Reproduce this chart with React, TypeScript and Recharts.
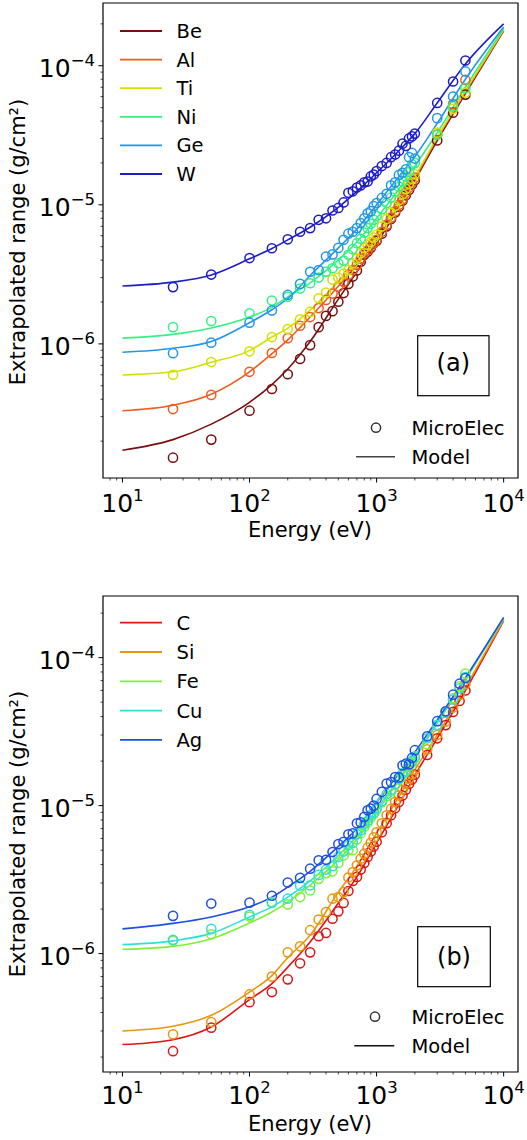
import React from 'react';
import { ComposedChart, Line, Scatter, XAxis, YAxis, ReferenceArea } from 'recharts';

const FONT = '"DejaVu Sans", Verdana, sans-serif';

// ---------- shared axis data ----------
const X_DOMAIN: [number, number] = [7.03, 12970];
const X_TICKS = [8, 9, 10, 20, 30, 40, 50, 60, 70, 80, 90, 100, 200, 300, 400, 500, 600, 700, 800, 900,
  1000, 2000, 3000, 4000, 5000, 6000, 7000, 8000, 9000, 10000];
const Y_TICKS = [2e-7, 3e-7, 4e-7, 5e-7, 6e-7, 7e-7, 8e-7, 9e-7, 1e-6, 2e-6, 3e-6, 4e-6, 5e-6, 6e-6, 7e-6, 8e-6, 9e-6,
  1e-5, 2e-5, 3e-5, 4e-5, 5e-5, 6e-5, 7e-5, 8e-5, 9e-5, 1e-4, 2e-4];
const YA_DOMAIN: [number, number] = [1.086e-7, 2.825e-4];
const YB_DOMAIN: [number, number] = [1.585e-7, 2.61e-4];

// ---------- model energies (eV) ----------
const MODEL_E = [10, 25, 50, 100, 150, 200, 300, 500, 700, 1000, 1500, 2000, 3000, 5000, 10000];

// ---------- panel (a) ----------
const A_POINT_E = [25, 50, 100, 150, 200, 250, 300, 350, 400, 450, 500, 550, 600, 650, 700, 750, 800, 850, 900, 950,
  1000, 1100, 1200, 1300, 1400, 1500, 1600, 1700, 1800, 1900, 2000, 3000, 4000, 5000];

const BE_MODEL = [1.72e-7, 2.05e-7, 2.65e-7, 3.8e-7, 5.1e-7, 6.6e-7, 1.04e-6, 2.1e-6, 3.3e-6, 5.3e-6, 9.6e-6, 1.5e-5, 2.9e-5, 6.3e-5, 1.78e-4];
const AL_MODEL = [3.31e-7, 3.62e-7, 4.35e-7, 6.3e-7, 8.5e-7, 1.07e-6, 1.56e-6, 2.6e-6, 3.7e-6, 5.6e-6, 9.9e-6, 1.55e-5, 3.0e-5, 6.5e-5, 1.8e-4];
const TI_MODEL = [5.98e-7, 6.3e-7, 7.38e-7, 8.95e-7, 1.12e-6, 1.3e-6, 1.75e-6, 2.8e-6, 3.9e-6, 6.0e-6, 1.04e-5, 1.6e-5, 3.05e-5, 6.6e-5, 1.82e-4];
const NI_MODEL = [1.10e-6, 1.17e-6, 1.30e-6, 1.56e-6, 1.83e-6, 2.18e-6, 2.75e-6, 4.0e-6, 5.4e-6, 8.0e-6, 1.3e-5, 1.9e-5, 3.3e-5, 7.0e-5, 1.85e-4];
const GE_MODEL = [8.7e-7, 9.3e-7, 1.04e-6, 1.42e-6, 1.76e-6, 2.12e-6, 3.1e-6, 4.9e-6, 6.7e-6, 1.0e-5, 1.6e-5, 2.22e-5, 3.85e-5, 8.0e-5, 1.9e-4];
const W_MODEL = [2.61e-6, 2.78e-6, 3.13e-6, 4.09e-6, 4.85e-6, 5.6e-6, 6.9e-6, 9.6e-6, 1.25e-5, 1.7e-5, 2.45e-5, 3.25e-5, 5.4e-5, 1.03e-4, 2.0e-4];

const BE_PTS = [1.52e-7, 2.05e-7, 3.31e-7, 4.74e-7, 6.05e-7, 7.8e-7, 9.8e-7, 1.32e-6, 1.59e-6, 1.72e-6, 2.01e-6, 2.32e-6, 2.7e-6, 3.05e-6, 3.37e-6, 3.9e-6, 4.37e-6, 4.6e-6, 4.9e-6, 5.3e-6, 5.5e-6, 6.2e-6, 7.0e-6, 7.9e-6, 8.8e-6, 9.7e-6, 1.07e-5, 1.17e-5, 1.28e-5, 1.4e-5, 1.5e-5, 2.9e-5, 4.6e-5, 6.2e-5];
const AL_PTS = [3.4e-7, 4.3e-7, 6.3e-7, 8.6e-7, 1.1e-6, 1.35e-6, 1.56e-6, 1.81e-6, 2.07e-6, 2.3e-6, 2.58e-6, 2.8e-6, 3.14e-6, 3.4e-6, 3.7e-6, 4.1e-6, 4.48e-6, 4.7e-6, 5.0e-6, 5.3e-6, 5.6e-6, 6.4e-6, 7.2e-6, 8.1e-6, 9.0e-6, 1.0e-5, 1.1e-5, 1.22e-5, 1.33e-5, 1.45e-5, 1.57e-5, 3.2e-5, 5.3e-5, 7.9e-5];
const TI_PTS = [6.0e-7, 7.4e-7, 8.85e-7, 1.12e-6, 1.28e-6, 1.5e-6, 1.7e-6, 2.13e-6, 2.34e-6, 2.9e-6, 3.0e-6, 3.2e-6, 3.4e-6, 3.8e-6, 4.1e-6, 4.5e-6, 4.9e-6, 5.15e-6, 5.4e-6, 5.8e-6, 6.1e-6, 7.0e-6, 7.9e-6, 8.8e-6, 9.8e-6, 1.08e-5, 1.19e-5, 1.3e-5, 1.42e-5, 1.54e-5, 1.66e-5, 3.3e-5, 4.9e-5, 6.4e-5];
const NI_PTS = [1.32e-6, 1.46e-6, 1.66e-6, 2.05e-6, 2.18e-6, 2.5e-6, 2.73e-6, 3.0e-6, 3.31e-6, 3.5e-6, 3.8e-6, 3.97e-6, 4.37e-6, 4.8e-6, 5.3e-6, 5.7e-6, 6.3e-6, 6.8e-6, 7.3e-6, 7.8e-6, 8.3e-6, 9.3e-6, 1.03e-5, 1.13e-5, 1.24e-5, 1.35e-5, 1.47e-5, 1.6e-5, 1.72e-5, 1.95e-5, 2.0e-5, 3.19e-5, 5.1e-5, 6.9e-5];
const GE_PTS = [8.57e-7, 1.02e-6, 1.42e-6, 1.74e-6, 2.25e-6, 2.7e-6, 3.3e-6, 3.4e-6, 4.25e-6, 4.4e-6, 4.9e-6, 5.6e-6, 6.2e-6, 6.4e-6, 6.8e-6, 7.4e-6, 8.0e-6, 8.7e-6, 9.0e-6, 9.8e-6, 1.03e-5, 1.12e-5, 1.2e-5, 1.38e-5, 1.45e-5, 1.64e-5, 1.7e-5, 1.8e-5, 2.2e-5, 2.36e-5, 2.15e-5, 4.2e-5, 6.0e-5, 9.1e-5];
const W_PTS = [2.56e-6, 3.15e-6, 4.14e-6, 4.87e-6, 5.65e-6, 6.4e-6, 6.8e-6, 7.8e-6, 8.0e-6, 9.1e-6, 9.5e-6, 1.04e-5, 1.22e-5, 1.25e-5, 1.33e-5, 1.38e-5, 1.45e-5, 1.47e-5, 1.6e-5, 1.65e-5, 1.75e-5, 1.9e-5, 2.0e-5, 2.2e-5, 2.3e-5, 2.45e-5, 2.75e-5, 2.65e-5, 3.0e-5, 3.1e-5, 3.25e-5, 5.4e-5, 7.7e-5, 1.09e-4];

const A_NAMES = ['Be', 'Al', 'Ti', 'Ni', 'Ge', 'W'];
const A_COLORS = ['#7a0f0f', '#ef5b1f', '#d2e000', '#35ef85', '#2396ea', '#1d1dc8'];
const A_MODELS = [BE_MODEL, AL_MODEL, TI_MODEL, NI_MODEL, GE_MODEL, W_MODEL];
const A_POINTS = [BE_PTS, AL_PTS, TI_PTS, NI_PTS, GE_PTS, W_PTS];

// ---------- panel (b) ----------
const B_POINT_E = [25, 50, 100, 150, 200, 250, 300, 350, 400, 450, 500, 550, 600, 650, 700, 750, 800, 850, 900, 950,
  1000, 1100, 1200, 1300, 1400, 1500, 1600, 1700, 1800, 1900, 2000, 2500, 3000, 3500, 4000, 4500, 5000];

const C_MODEL = [2.43e-7, 2.62e-7, 3.19e-7, 4.89e-7, 6.27e-7, 8.1e-7, 1.2e-6, 2.2e-6, 3.3e-6, 5.6e-6, 1.02e-5, 1.6e-5, 2.85e-5, 6.0e-5, 1.78e-4];
const SI_MODEL = [3.0e-7, 3.23e-7, 3.83e-7, 5.5e-7, 7.1e-7, 9.4e-7, 1.33e-6, 2.6e-6, 3.9e-6, 6.5e-6, 1.15e-5, 1.75e-5, 3.0e-5, 6.3e-5, 1.8e-4];
const FE_MODEL = [1.07e-6, 1.12e-6, 1.26e-6, 1.61e-6, 1.91e-6, 2.23e-6, 2.9e-6, 4.3e-6, 5.9e-6, 9.0e-6, 1.48e-5, 2.1e-5, 3.6e-5, 7.1e-5, 1.84e-4];
const CU_MODEL = [1.15e-6, 1.22e-6, 1.37e-6, 1.77e-6, 2.07e-6, 2.41e-6, 3.1e-6, 4.6e-6, 6.2e-6, 9.4e-6, 1.52e-5, 2.15e-5, 3.65e-5, 7.2e-5, 1.85e-4];
const AG_MODEL = [1.47e-6, 1.6e-6, 1.77e-6, 2.07e-6, 2.41e-6, 2.82e-6, 3.6e-6, 5.3e-6, 7.0e-6, 1.05e-5, 1.65e-5, 2.3e-5, 3.8e-5, 7.3e-5, 1.87e-4];

const C_PTS = [2.19e-7, 3.16e-7, 4.7e-7, 5.5e-7, 6.7e-7, 8.6e-7, 1.02e-6, 1.31e-6, 1.38e-6, 1.72e-6, 1.93e-6, 2.2e-6, 2.65e-6, 3.1e-6, 3.3e-6, 3.7e-6, 4.1e-6, 4.5e-6, 4.9e-6, 5.3e-6, 5.7e-6, 6.6e-6, 7.6e-6, 8.6e-6, 9.6e-6, 1.06e-5, 1.17e-5, 1.28e-5, 1.4e-5, 1.5e-5, 1.62e-5, 2.2e-5, 2.85e-5, 3.5e-5, 4.3e-5, 5.1e-5, 6.0e-5];
const SI_PTS = [2.85e-7, 3.45e-7, 5.3e-7, 7.0e-7, 1.02e-6, 1.12e-6, 1.44e-6, 1.7e-6, 1.91e-6, 2.35e-6, 2.41e-6, 2.6e-6, 3.27e-6, 3.56e-6, 3.95e-6, 4.38e-6, 4.74e-6, 5.2e-6, 5.6e-6, 6.1e-6, 6.6e-6, 7.6e-6, 8.6e-6, 9.5e-6, 1.06e-5, 1.17e-5, 1.28e-5, 1.4e-5, 1.52e-5, 1.63e-5, 1.75e-5, 2.4e-5, 3.0e-5, 3.7e-5, 4.6e-5, 5.6e-5, 6.6e-5];
const FE_PTS = [1.22e-6, 1.35e-6, 1.78e-6, 2.23e-6, 2.15e-6, 2.41e-6, 2.67e-6, 3.2e-6, 3.5e-6, 3.6e-6, 4.1e-6, 4.6e-6, 5.0e-6, 5.0e-6, 5.9e-6, 6.5e-6, 7.2e-6, 7.7e-6, 8.3e-6, 8.8e-6, 9.4e-6, 1.05e-5, 1.16e-5, 1.25e-5, 1.38e-5, 1.5e-5, 1.6e-5, 1.72e-5, 1.85e-5, 1.95e-5, 2.1e-5, 2.6e-5, 3.5e-5, 4.3e-5, 5.3e-5, 6.4e-5, 7.8e-5];
const CU_PTS = [1.24e-6, 1.47e-6, 1.83e-6, 2.2e-6, 2.35e-6, 2.89e-6, 2.89e-6, 3.4e-6, 3.7e-6, 3.9e-6, 4.5e-6, 4.9e-6, 5.4e-6, 5.6e-6, 6.4e-6, 6.8e-6, 7.5e-6, 7.9e-6, 8.6e-6, 9.0e-6, 9.6e-6, 1.07e-5, 1.2e-5, 1.28e-5, 1.4e-5, 1.52e-5, 1.65e-5, 1.7e-5, 1.9e-5, 2.0e-5, 2.15e-5, 2.85e-5, 3.5e-5, 4.3e-5, 5.2e-5, 6.2e-5, 7.4e-5];
const AG_PTS = [1.8e-6, 2.18e-6, 2.21e-6, 2.46e-6, 3.02e-6, 3.25e-6, 3.75e-6, 4.27e-6, 4.31e-6, 4.86e-6, 5.5e-6, 5.7e-6, 6.4e-6, 6.5e-6, 7.6e-6, 7.7e-6, 8.4e-6, 9.3e-6, 9.55e-6, 1.0e-5, 1.11e-5, 1.24e-5, 1.41e-5, 1.44e-5, 1.56e-5, 1.55e-5, 1.87e-5, 1.92e-5, 1.9e-5, 2.1e-5, 2.37e-5, 2.94e-5, 3.72e-5, 4.34e-5, 5.62e-5, 6.67e-5, 7.28e-5];

const B_NAMES = ['C', 'Si', 'Fe', 'Cu', 'Ag'];
const B_COLORS = ['#e01414', '#e8960e', '#7ef03a', '#2ee0d6', '#1f4fe6'];
const B_MODELS = [C_MODEL, SI_MODEL, FE_MODEL, CU_MODEL, AG_MODEL];
const B_POINTS = [C_PTS, SI_PTS, FE_PTS, CU_PTS, AG_PTS];

// ---------- helpers ----------
const toRows = (es: number[], rs: number[]) =>
  es.slice(0, Math.min(es.length, rs.length)).map((e, i) => ({ e, r: rs[i] }));

const isMajor = (v: number) => {
  const lg = Math.log10(v);
  return Math.abs(lg - Math.round(lg)) < 1e-6;
};

const XTick = (props: any) => {
  const { x, y, payload, labelDy } = props;
  const v = payload.value;
  const major = isMajor(v);
  const exp = Math.round(Math.log10(v));
  return (
    <g>
      <line x1={x} x2={x} y1={y} y2={y + (major ? 4.5 : 2.5)} stroke="#000" strokeWidth={major ? 1 : 0.7} />
      {major && (
        <text x={x} y={y + labelDy} textAnchor="middle" fontFamily={FONT} fontSize={25} fill="#000">
          10<tspan dy={-11} fontSize={16.5}>{String(exp)}</tspan>
        </text>
      )}
    </g>
  );
};

const YTick = (props: any) => {
  const { x, y, payload } = props;
  const v = payload.value;
  const major = isMajor(v);
  const exp = Math.round(Math.log10(v));
  return (
    <g>
      <line x1={x} x2={x - (major ? 4.5 : 2.5)} y1={y} y2={y} stroke="#000" strokeWidth={major ? 1 : 0.7} />
      {major && (
        <text x={x - 8} y={y + 11} textAnchor="end" fontFamily={FONT} fontSize={25} fill="#000">
          10<tspan dy={-11} fontSize={16.5}>{'\u2212' + Math.abs(exp)}</tspan>
        </text>
      )}
    </g>
  );
};

const ring = (color: string) => (p: any) => (
  <circle cx={p.cx} cy={p.cy} r={4.6} fill="none" stroke={color} strokeWidth={1.5} />
);

type PanelProps = {
  top: number;
  height: number;
  marginTop: number;
  xAxisHeight: number;
  yDomain: [number, number];
  names: string[];
  colors: string[];
  models: number[][];
  points: number[][];
  pointE: number[];
  labelDy: number;
};

function Panel(p: PanelProps) {
  const yTicks = Y_TICKS.filter((t) => t >= p.yDomain[0] && t <= p.yDomain[1]);
  const children: any[] = [];
  p.names.forEach((n, i) => {
    children.push(
      <Line
        key={'l' + n}
        data={toRows(MODEL_E, p.models[i])}
        dataKey="r"
        type="monotone"
        stroke={p.colors[i]}
        strokeWidth={1.6}
        dot={false}
        activeDot={false}
        isAnimationActive={false}
      />
    );
    children.push(
      <Scatter
        key={'s' + n}
        data={toRows(p.pointE, p.points[i])}
        dataKey="r"
        shape={ring(p.colors[i])}
        isAnimationActive={false}
      />
    );
  });
  return (
    <div style={{ position: 'absolute', left: 0, top: p.top, width: 527, height: p.height }}>
      <ComposedChart width={527} height={p.height} margin={{ top: p.marginTop, right: 9, bottom: 0, left: 0 }}>
        <XAxis
          type="number"
          dataKey="e"
          scale="log"
          domain={X_DOMAIN}
          allowDataOverflow
          ticks={X_TICKS}
          interval={0}
          tick={<XTick labelDy={p.labelDy} />}
          tickLine={false}
          axisLine={false}
          tickSize={0}
          tickMargin={0}
          height={p.xAxisHeight}
        />
        <YAxis
          type="number"
          dataKey="r"
          scale="log"
          domain={p.yDomain}
          allowDataOverflow
          ticks={yTicks}
          interval={0}
          tick={<YTick />}
          tickLine={false}
          axisLine={false}
          tickSize={0}
          tickMargin={0}
          width={103}
        />
        {children}
        <ReferenceArea
          x1={X_DOMAIN[0]}
          x2={X_DOMAIN[1]}
          y1={p.yDomain[0]}
          y2={p.yDomain[1]}
          fill="none"
          fillOpacity={0}
          stroke="#000"
          strokeWidth={1.2}
          ifOverflow="visible"
        />
      </ComposedChart>
    </div>
  );
}

function Overlay() {
  const txt = { fontFamily: FONT, fill: '#000' } as const;
  return (
    <svg
      width={527}
      height={1140}
      style={{ position: 'absolute', left: 0, top: 0, pointerEvents: 'none' }}
    >
      {/* axis labels */}
      <text {...txt} fontSize={21} textAnchor="middle" transform="translate(25,242) rotate(-90)">
        Extrapolated range (g/cm²)
      </text>
      <text {...txt} fontSize={21} textAnchor="middle" transform="translate(25,834) rotate(-90)">
        Extrapolated range (g/cm²)
      </text>
      <text {...txt} fontSize={21} textAnchor="middle" x={310} y={537}>Energy (eV)</text>
      <text {...txt} fontSize={21} textAnchor="middle" x={310} y={1131}>Energy (eV)</text>

      {/* element legends */}
      {A_NAMES.map((n, i) => (
        <g key={'la' + n}>
          <line x1={120} x2={162} y1={31 + i * 28.6} y2={31 + i * 28.6} stroke={A_COLORS[i]} strokeWidth={1.8} />
          <text {...txt} fontSize={19.5} x={176.5} y={31 + i * 28.6 + 7}>{n}</text>
        </g>
      ))}
      {B_NAMES.map((n, i) => (
        <g key={'lb' + n}>
          <line x1={120} x2={162} y1={622.7 + i * 29.3} y2={622.7 + i * 29.3} stroke={B_COLORS[i]} strokeWidth={1.8} />
          <text {...txt} fontSize={19.5} x={176.5} y={622.7 + i * 29.3 + 7}>{n}</text>
        </g>
      ))}

      {/* marker legends */}
      <circle cx={376} cy={427.7} r={4.6} fill="none" stroke="#333" strokeWidth={1.5} />
      <text {...txt} fontSize={19.5} x={411.5} y={434.7}>MicroElec</text>
      <line x1={356} x2={395} y1={456.7} y2={456.7} stroke="#444" strokeWidth={1.6} />
      <text {...txt} fontSize={19.5} x={411.5} y={463.7}>Model</text>

      <circle cx={375} cy={1016.7} r={4.6} fill="none" stroke="#333" strokeWidth={1.5} />
      <text {...txt} fontSize={19.5} x={411.5} y={1023.7}>MicroElec</text>
      <line x1={354.3} x2={394.3} y1={1045.7} y2={1045.7} stroke="#111" strokeWidth={1.6} />
      <text {...txt} fontSize={19.5} x={411.5} y={1052.7}>Model</text>

      {/* panel tags */}
      <rect x={417.7} y={335.7} width={71.3} height={60} fill="none" stroke="#000" strokeWidth={1.2} />
      <text {...txt} fontSize={24} textAnchor="middle" x={453.3} y={370.5}>(a)</text>
      <rect x={417.7} y={926.7} width={72.6} height={60} fill="none" stroke="#000" strokeWidth={1.2} />
      <text {...txt} fontSize={24} textAnchor="middle" x={454} y={965}>(b)</text>
    </svg>
  );
}

export default function App() {
  return (
    <div style={{ position: 'absolute', left: 0, top: 0, width: 527, height: 1140, background: '#fff', overflow: 'hidden' }}>
      <Panel
        top={0}
        height={550}
        marginTop={3}
        xAxisHeight={72}
        yDomain={YA_DOMAIN}
        names={A_NAMES}
        colors={A_COLORS}
        models={A_MODELS}
        points={A_POINTS}
        pointE={A_POINT_E}
        labelDy={33.5}
      />
      <Panel
        top={560}
        height={580}
        marginTop={36}
        xAxisHeight={68}
        yDomain={YB_DOMAIN}
        names={B_NAMES}
        colors={B_COLORS}
        models={B_MODELS}
        points={B_POINTS}
        pointE={B_POINT_E}
        labelDy={31.5}
      />
      <Overlay />
    </div>
  );
}
